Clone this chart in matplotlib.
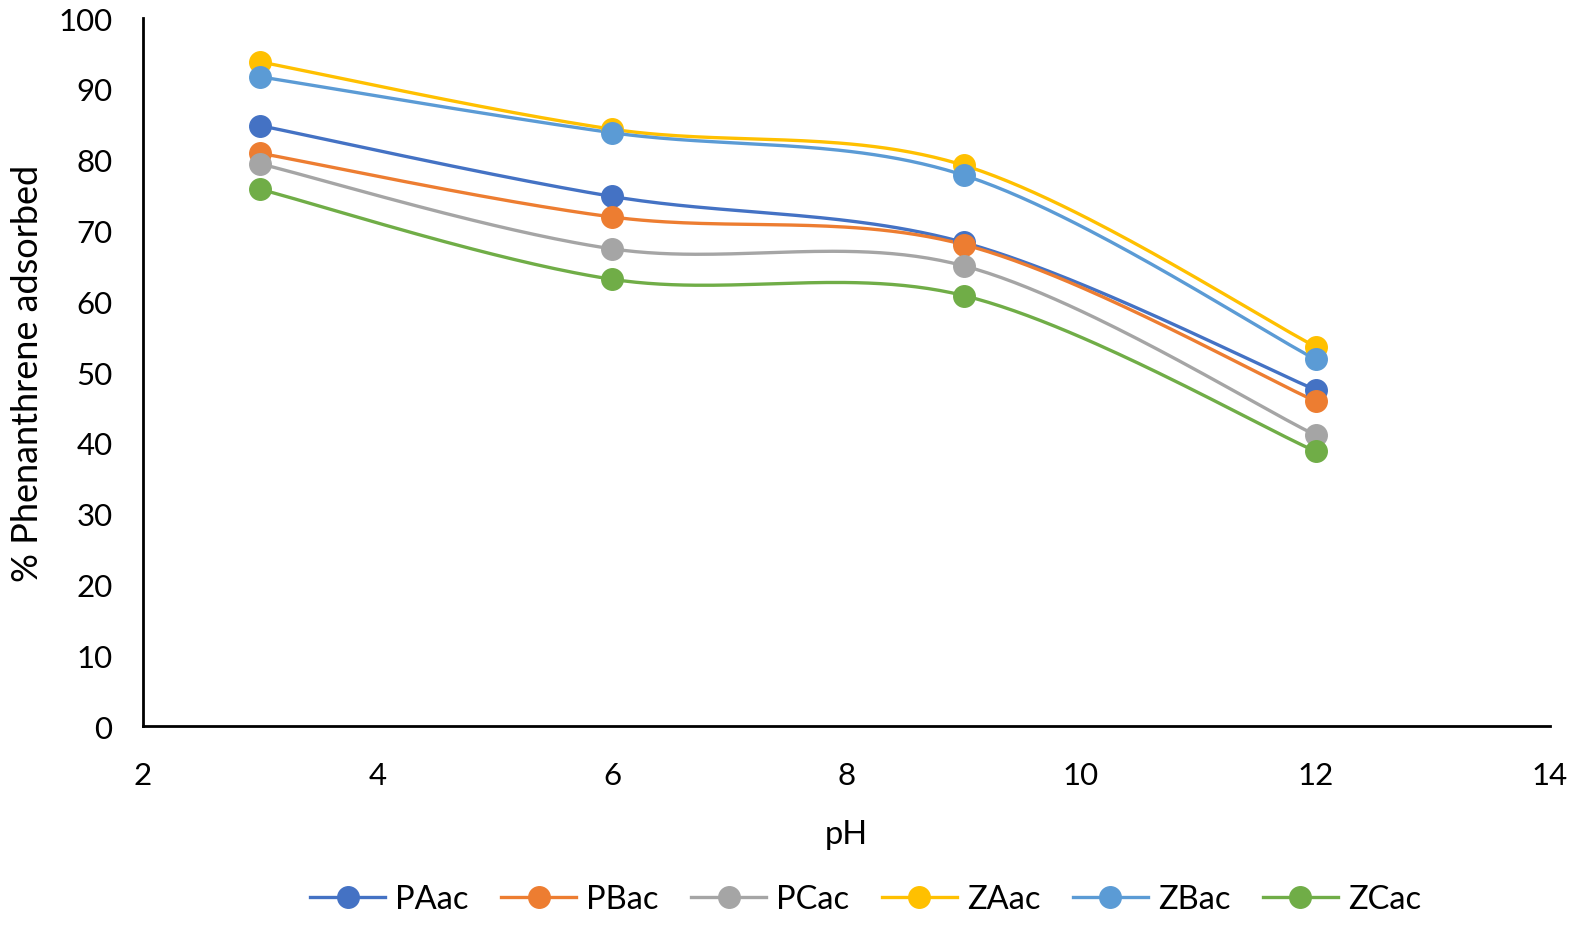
import numpy as np
import matplotlib
matplotlib.use("Agg")
import matplotlib.pyplot as plt
from matplotlib.lines import Line2D

plt.rcParams['font.family'] = ['Lato', 'DejaVu Sans']

ph = [3, 6, 9, 12]
series_names = ["PAac", "PBac", "PCac", "ZAac", "ZBac", "ZCac"]
PAac = [84.8, 74.8, 68.3, 47.5]
PBac = [80.9, 71.9, 68.0, 45.9]
PCac = [79.4, 67.4, 65.0, 41.1]
ZAac = [93.8, 84.3, 79.2, 53.6]
ZBac = [91.7, 83.8, 77.8, 51.8]
ZCac = [75.8, 63.1, 60.8, 38.8]
values = [PAac, PBac, PCac, ZAac, ZBac, ZCac]
colors = ["#4472C4", "#ED7D31", "#A5A5A5", "#FFC000", "#5B9BD5", "#70AD47"]
xticks = [2, 4, 6, 8, 10, 12, 14]
yticks = list(range(0, 101, 10))


def smooth(xs, ys, n=60):
    pts = np.column_stack([xs, ys]).astype(float)
    out = []
    m = len(pts)
    for i in range(m - 1):
        p0 = pts[i - 1] if i > 0 else pts[i]
        p1 = pts[i]
        p2 = pts[i + 1]
        p3 = pts[i + 2] if i + 2 < m else pts[i + 1]
        c1 = p1 + (p2 - p0) / 6.0
        c2 = p2 - (p3 - p1) / 6.0
        t = np.linspace(0, 1, n)[:, None]
        b = ((1 - t) ** 3) * p1 + 3 * ((1 - t) ** 2) * t * c1 + 3 * (1 - t) * t ** 2 * c2 + t ** 3 * p2
        out.append(b if i == 0 else b[1:])
    b = np.vstack(out)
    return b[:, 0], b[:, 1]


fig = plt.figure(figsize=(15.94, 9.37), dpi=100)
ax = fig.add_axes([0.0897, 0.2241, 0.8827, 0.7556])

handles = []
for name, vals, c in zip(series_names, values, colors):
    sx, sy = smooth(ph, vals)
    ax.plot(sx, sy, color=c, lw=2.4, solid_capstyle='round', zorder=2)
    ax.plot(ph, vals, 'o', color=c, ms=15.5, zorder=3)
    handles.append(Line2D([0], [0], color=c, lw=2.4, marker='o', ms=15.5, label=name))

ax.set_xlim(2, 14)
ax.set_ylim(0, 100)
ax.set_xticks(xticks)
ax.set_yticks(yticks)
ax.tick_params(axis='both', length=0, labelsize=22.5)
ax.tick_params(axis='x', pad=25)
ax.tick_params(axis='y', pad=22)
for s in ['top', 'right']:
    ax.spines[s].set_visible(False)
for s in ['left', 'bottom']:
    ax.spines[s].set_color('black')
    ax.spines[s].set_linewidth(2)

ax.set_xlabel("pH", fontsize=23.5, labelpad=22)
ax.set_ylabel("% Phenanthrene adsorbed", fontsize=26, labelpad=10)

fig.legend(handles=handles, loc='center', bbox_to_anchor=(0.543, 0.039), ncol=6,
           frameon=False, fontsize=23.5, handlelength=2.3, columnspacing=1.0,
           handletextpad=0.3)

fig.savefig("out.png", dpi=100)
